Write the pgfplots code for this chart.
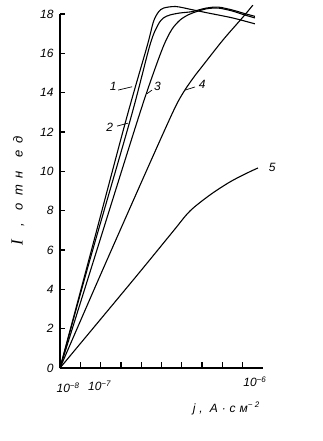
\documentclass[border=0pt]{standalone}
\usepackage{fontspec}
\setmainfont{Liberation Sans}
\newfontfamily\spacedfont[LetterSpace=32]{Liberation Sans}
\newfontfamily\widefont[LetterSpace=55]{Liberation Sans}
\newfontfamily\serifI{Liberation Serif}
\usepackage{pgfplots}
\pgfplotsset{compat=1.18}
\begin{document}
\begin{tikzpicture}
\useasboundingbox (-60pt,-73pt) rectangle (263pt,368pt);
\begin{axis}[
  anchor=south west, at={(0pt,0pt)},
  scale only axis, width=203pt, height=354pt,
  xmin=0, xmax=10, ymin=0, ymax=18,
  axis x line=bottom, axis y line=left, axis line style={-, line width=1.1pt},
  clip=false,
  xtick={1,2,3,4,5,6,7,8,9},
  xticklabels={},
  xtick align=inside,
  ytick={0,2,...,18},
  ytick align=inside, major tick length=4.5pt,
  every tick/.style={line width=1.1pt, black},
  yticklabel style={font=\fontsize{12}{12}\selectfont\itshape, xshift=-3pt},
  /pgf/number format/assume math mode=true,
]
% curve 1
\addplot[black, line width=1.1pt, smooth, no marks] coordinates {(0,0) (1.5,5.8) (3.25,12.6) (4.3,16.4) (4.6,17.6) (4.85,18.1) (5.1,18.3) (5.7,18.38) (6.5,18.22) (7.3,18.05) (8.5,17.8) (9.6,17.5)};
% curve 2
\addplot[black, line width=1.1pt, smooth, no marks] coordinates {(0,0) (1.5,5.6) (3.5,12.76) (4.43,16.42) (4.83,17.45) (5.1,17.8) (5.42,17.95) (5.9,18.05) (6.5,18.12) (7.2,18.3) (7.8,18.35) (8.5,18.2) (9.0,18.05) (9.6,17.88)};
% curve 3
\addplot[black, line width=1.1pt, smooth, no marks] coordinates {(0,0) (1.5,4.95) (3.7,12.2) (4.4,14.4) (5.07,16.3) (5.5,17.2) (5.91,17.69) (6.3,17.95) (6.55,18.06) (7.2,18.26) (7.8,18.3) (8.5,18.15) (9.0,17.98) (9.6,17.8)};
% curve 4
\addplot[black, line width=1.1pt, smooth, no marks] coordinates {(0,0) (2,4.75) (4.29,10.1) (5.6,13.1) (6.1,14.05) (6.6,14.8) (6.9,15.2) (8.03,16.68) (9.01,17.84) (9.5,18.45)};
% curve 5
\addplot[black, line width=1.1pt, smooth, no marks] coordinates {(0,0) (3.69,4.58) (5.57,6.95) (6.4,7.98) (7.39,8.8) (8.37,9.46) (9.21,9.91) (9.75,10.17)};
% x-axis tick strokes
\pgfplotsinvokeforeach{1,2,3,4,5,6,7,8,9}{\draw[black, line width=1.3pt] (axis cs:#1,-0.03) -- (axis cs:#1,0.28);}
% leaders
\draw[line width=0.7pt] (axis cs:2.86,14.13) -- (axis cs:3.55,14.3);
\draw[line width=0.7pt] (axis cs:2.81,12.3) -- (axis cs:3.35,12.45);
\draw[line width=0.7pt] (axis cs:4.29,13.95) -- (axis cs:4.53,14.13);
\draw[line width=0.7pt] (axis cs:6.16,14.13) -- (axis cs:6.65,14.29);
\node[font=\fontsize{12}{12}\selectfont\itshape] at (axis cs:2.62,14.3) {1};
\node[font=\fontsize{12}{12}\selectfont\itshape] at (axis cs:2.45,12.25) {2};
\node[font=\fontsize{12}{12}\selectfont\itshape] at (axis cs:4.8,14.3) {3};
\node[font=\fontsize{12}{12}\selectfont\itshape] at (axis cs:7.0,14.4) {4};
\node[font=\fontsize{12}{12}\selectfont\itshape] at (axis cs:10.45,10.2) {5};
% x tick texts
\node[anchor=north, font=\fontsize{12}{12}\selectfont\itshape, inner sep=0pt] at (axis cs:0.4,-0.75) {10\textsuperscript{−8}};
\node[anchor=north, font=\fontsize{12}{12}\selectfont\itshape, inner sep=0pt] at (axis cs:1.95,-0.65) {10\textsuperscript{−7}};
\node[anchor=north, font=\fontsize{12}{12}\selectfont\itshape, inner sep=0pt] at (axis cs:9.6,-0.45) {10\textsuperscript{−6}};
% axis labels
\node[font=\fontsize{12}{12}\selectfont\spacedfont\itshape] at (axis cs:8.2,-2.05) {j, A·см\textsuperscript{−2}};
\node[rotate=90, font=\fontsize{13}{13}\selectfont\widefont\itshape] at (axis cs:-2.07,9.0) {{\serifI\fontsize{17}{17}\selectfont I}\, , \,отн \,ед};
\end{axis}
\end{tikzpicture}
\end{document}
